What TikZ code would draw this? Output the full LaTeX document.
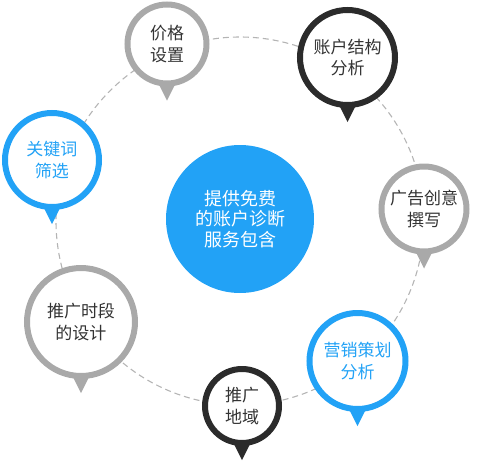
\documentclass[tikz,border=0pt]{standalone}
\usepackage{fontspec}
\newfontfamily\cjk{Noto Sans CJK SC}
\usetikzlibrary{calc}
\definecolor{cblue}{HTML}{22A2F6}
\definecolor{cgray}{HTML}{A9A9A9}
\definecolor{cdark}{HTML}{2B2B2B}
\definecolor{ctext}{HTML}{333333}
\definecolor{cdash}{HTML}{B4B4B4}
\begin{document}
\begin{tikzpicture}[x=1pt,y=-1pt,
  bubble/.style={circle, draw=#1, line width=6pt, fill=white, inner sep=0pt,
    align=center, font=\cjk\fontsize{17}{21.5}\selectfont, text=ctext},
  hub/.style={circle, fill=cblue, inner sep=0pt, minimum size=148pt,
    align=center, text=white, font=\cjk\fontsize{18}{20.5}\selectfont},
  ring/.style={cdash, line width=1.1pt, dash pattern=on 6pt off 4pt}]
\useasboundingbox (0,0) rectangle (480,464);
\draw[ring] (240,221) circle[radius=184];
\node[hub] (hubnode) at (240,219) {提供免费\\的账户诊断\\服务包含};
\node[bubble=cgray, minimum size=79pt] (price) at (167,44) {价格\\设置};
\node[bubble=cdark, minimum size=95pt] (account) at (347.5,57.5) {账户结构\\分析};
\node[bubble=cgray, minimum size=85pt] (ad) at (424,209) {广告创意\\撰写};
\node[bubble=cblue, minimum size=96pt, text=cblue] (market) at (357.5,361) {营销策划\\分析};
\node[bubble=cdark, minimum size=74pt] (region) at (242,406) {推广\\地域};
\node[bubble=cgray, minimum size=108pt] (timeslot) at (81,322) {推广时段\\的设计};
\node[bubble=cblue, minimum size=94pt, text=cblue] (keyword) at (52,160) {关键词\\筛选};
\foreach \n/\c in {price/cgray, account/cdark, ad/cgray, market/cblue, region/cdark, timeslot/cgray, keyword/cblue}{
  \fill[\c] ($(\n.south)+(-8,-2)$) -- ($(\n.south)+(8,-2)$) -- ($(\n.south)+(0,14)$) -- cycle;
}
\end{tikzpicture}
\end{document}
